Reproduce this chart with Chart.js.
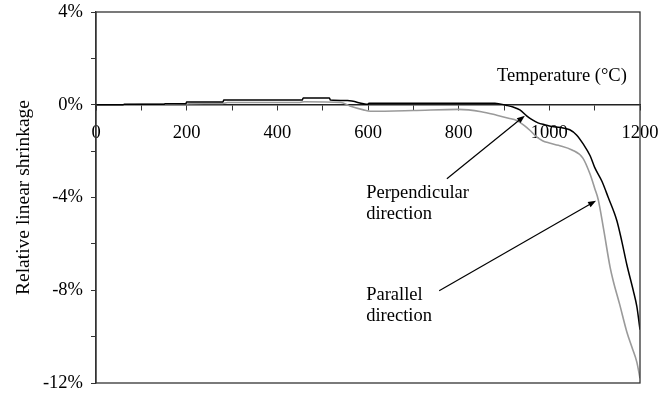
<!DOCTYPE html>
<html>
<head>
<meta charset="utf-8">
<script src="https://cdn.jsdelivr.net/npm/chart.js@4/dist/chart.umd.min.js"></script>
<style>
  html, body { margin: 0; padding: 0; background: #fff; }
  #wrap { width: 672px; height: 395px; }
</style>
</head>
<body>
<div id="wrap"><canvas id="chart"></canvas></div>
<script>
/* ================== DATA ================== */
// perpendicular direction (black curve): temperature in °C, shrinkage in %
const perpTemps = [0, 60, 62, 150, 152, 198, 200, 280, 282, 455, 457, 515, 517, 555, 600, 602, 880, 906, 920, 935, 950, 960, 975, 990, 1010, 1030, 1045, 1060, 1075, 1090, 1100, 1116, 1130, 1149, 1160, 1171, 1185, 1193, 1200];
const perpValues = [0, 0, 0.02, 0.02, 0.04, 0.04, 0.12, 0.12, 0.2, 0.2, 0.29, 0.29, 0.2, 0.18, 0.02, 0.07, 0.07, -0.03, -0.1, -0.22, -0.48, -0.62, -0.78, -0.86, -0.95, -1.0, -1.08, -1.3, -1.7, -2.2, -2.7, -3.3, -4.0, -5.0, -5.9, -6.9, -8.0, -8.7, -9.7];

// parallel direction (grey curve)
const paraTemps = [0, 50, 100, 200, 210, 280, 290, 450, 460, 540, 560, 590, 605, 700, 800, 850, 884, 910, 928, 945, 957, 970, 985, 1000, 1020, 1050, 1074, 1090, 1100, 1108, 1120, 1134, 1141, 1155, 1171, 1183, 1193, 1200];
const paraValues = [0, 0, 0.02, 0.03, 0.05, 0.06, 0.1, 0.1, 0.13, 0.1, -0.05, -0.22, -0.28, -0.25, -0.2, -0.3, -0.45, -0.58, -0.68, -0.9, -1.1, -1.35, -1.55, -1.65, -1.75, -1.95, -2.3, -3.0, -3.6, -4.1, -5.4, -7.0, -7.6, -8.6, -9.8, -10.5, -11.1, -11.8];

// axis ticks
const xTickLabels = [0, 200, 400, 600, 800, 1000, 1200];
const yTickLabels = [4, 0, -4, -8, -12];

// text labels and arrows (in data units: °C, %)
const axisNote = { text: 'Temperature (°C)', x: 1171, y: 1.25 };
const notes = [
  { lines: ['Perpendicular', 'direction'], x: 596, y: -3.8, from: [774, -3.19], to: [946, -0.47] },
  { lines: ['Parallel', 'direction'], x: 596, y: -8.23, from: [757, -8.02], to: [1103, -4.14] }
];

/* ================== HELPERS ================== */
const toPoints = (xs, ys) => xs.map((x, i) => ({ x, y: ys[i] }));
const FAMILY = "'Liberation Serif', 'Times New Roman', serif";
const FONT = { family: FAMILY, size: 18.5 };

/* ================== FRAME + ANNOTATIONS ================== */
const annotations = {
  id: 'annotations',
  afterDatasetsDraw(chart) {
    const { ctx, chartArea: a, scales: { x, y } } = chart;
    ctx.save();
    // frame around the plot
    ctx.strokeStyle = '#333';
    ctx.lineWidth = 1.3;
    ctx.strokeRect(a.left, a.top, a.right - a.left, a.bottom - a.top);

    ctx.fillStyle = '#000';
    ctx.font = `${FONT.size}px ${FAMILY}`;
    ctx.textBaseline = 'middle';
    ctx.textAlign = 'right';
    ctx.fillText(axisNote.text, x.getPixelForValue(axisNote.x), y.getPixelForValue(axisNote.y));

    ctx.textAlign = 'left';
    notes.forEach(n => {
      const tx = x.getPixelForValue(n.x);
      const ty = y.getPixelForValue(n.y);
      n.lines.forEach((line, i) => ctx.fillText(line, tx, ty + i * 21));

      const x1 = x.getPixelForValue(n.from[0]), y1 = y.getPixelForValue(n.from[1]);
      const x2 = x.getPixelForValue(n.to[0]), y2 = y.getPixelForValue(n.to[1]);
      const ang = Math.atan2(y2 - y1, x2 - x1);
      ctx.strokeStyle = '#000';
      ctx.lineWidth = 1.2;
      ctx.beginPath();
      ctx.moveTo(x1, y1);
      ctx.lineTo(x2 - 5 * Math.cos(ang), y2 - 5 * Math.sin(ang));
      ctx.stroke();
      ctx.beginPath();
      ctx.moveTo(x2, y2);
      ctx.lineTo(x2 - 8 * Math.cos(ang) + 3 * Math.sin(ang), y2 - 8 * Math.sin(ang) - 3 * Math.cos(ang));
      ctx.lineTo(x2 - 8 * Math.cos(ang) - 3 * Math.sin(ang), y2 - 8 * Math.sin(ang) + 3 * Math.cos(ang));
      ctx.closePath();
      ctx.fill();
    });
    ctx.restore();
  }
};

/* ================== CHART ================== */
new Chart(document.getElementById('chart'), {
  type: 'line',
  data: {
    datasets: [
      {
        label: 'Perpendicular direction',
        data: toPoints(perpTemps, perpValues),
        borderColor: '#000',
        borderWidth: 1.5,
        pointRadius: 0,
        cubicInterpolationMode: 'monotone',
        order: 1
      },
      {
        label: 'Parallel direction',
        data: toPoints(paraTemps, paraValues),
        borderColor: '#9a9a9a',
        borderWidth: 1.6,
        pointRadius: 0,
        cubicInterpolationMode: 'monotone',
        order: 2
      }
    ]
  },
  options: {
    responsive: true,
    maintainAspectRatio: false,
    animation: false,
    layout: { padding: { left: 0, right: 32, top: 12, bottom: 12 } },
    plugins: { legend: { display: false }, tooltip: { enabled: false } },
    scales: {
      x: {
        type: 'linear',
        position: { y: 0 },
        min: 0,
        max: 1200,
        ticks: {
          stepSize: 100,
          autoSkip: false,
          maxRotation: 0,
          padding: 12,
          color: '#000',
          font: FONT,
          callback: v => (xTickLabels.includes(v) ? String(v) : '')
        },
        grid: { drawOnChartArea: false, drawTicks: true, tickLength: 5, color: '#333' },
        border: { color: '#222', width: 1.5 }
      },
      y: {
        min: -12,
        max: 4,
        afterFit: s => { s.width = 96; s.paddingTop = 0; s.paddingBottom = 0; },
        ticks: {
          stepSize: 2,
          autoSkip: false,
          padding: 8,
          color: '#000',
          font: FONT,
          callback: v => (yTickLabels.includes(v) ? v + '%' : '')
        },
        grid: { drawOnChartArea: false, drawTicks: true, tickLength: 5, color: '#333' },
        border: { color: '#333', width: 1.3 },
        title: {
          display: true,
          text: 'Relative linear shrinkage',
          color: '#000',
          font: { family: FAMILY, size: 19.5 },
          padding: { top: 12, bottom: 0 }
        }
      }
    }
  },
  plugins: [annotations]
});
</script>
</body>
</html>
